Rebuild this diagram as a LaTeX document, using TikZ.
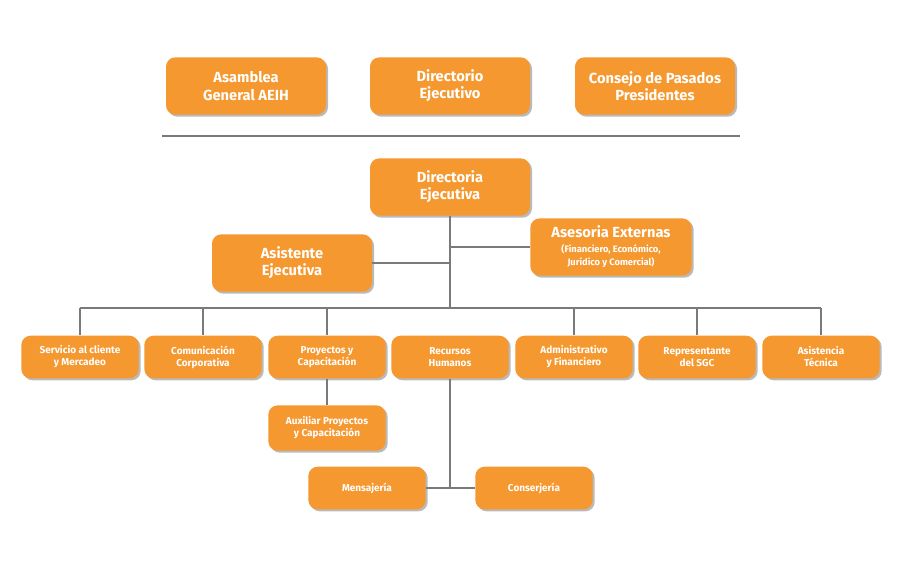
\documentclass[tikz,border=0pt]{standalone}
\usepackage{fontspec}
\setmainfont{Fira Sans}
\usetikzlibrary{shadows}
\definecolor{org}{HTML}{F5982F}
\definecolor{ln}{HTML}{7A7A7A}
\tikzset{
 box/.style={rounded corners=7pt, fill=org, draw=none, text=white, font=\bfseries, align=center, inner sep=0pt,
   drop shadow={shadow xshift=1.5pt, shadow yshift=-1.5pt, fill=black!45, opacity=0.6}},
 big/.style={box, minimum width=120pt, minimum height=43pt, font=\bfseries\fontsize{11}{13}\selectfont},
 small/.style={box, minimum width=88pt, minimum height=32pt, font=\bfseries\fontsize{7.5}{9}\selectfont},
 con/.style={draw=ln, line width=0.9pt}
}
\begin{document}
\begin{tikzpicture}[x=0.75pt,y=-0.75pt]
\useasboundingbox (0,0) rectangle (900,568);
\node[big] (asam) at (246,86) {Asamblea\\General AEIH};
\node[big] (dir) at (450,86) {Directorio\\Ejecutivo};
\node[big] (cons) at (655,86) {Consejo de Pasados\\Presidentes};
\draw[con] (162,136) -- (740,136);
\node[big] (de) at (450,187) {Directoria\\Ejecutiva};
\node[big] (as) at (292,263) {Asistente\\Ejecutiva};
\node[big, minimum width=121pt] (ae) at (611,247) {Asesoria Externas\\[-2pt]{\fontsize{7}{8.5}\selectfont (Financiero, Económico,}\\[-3pt]{\fontsize{7}{8.5}\selectfont Jurídico y Comercial)}};
\coordinate (bus) at (450,308);
\node[small] (s1) at (80,357) {Servicio al cliente\\y Mercadeo};
\node[small] (s2) at (203,357) {Comunicación\\Corporativa};
\node[small] (s3) at (327,357) {Proyectos y\\Capacitación};
\node[small] (s4) at (450,357) {Recursos\\Humanos};
\node[small] (s5) at (574,357) {Administrativo\\y Financiero};
\node[small] (s6) at (697,357) {Representante\\del SGC};
\node[small] (s7) at (821,357) {Asistencia\\Técnica};
\node[small, minimum height=34pt] (aux) at (327,428) {Auxiliar Proyectos\\y Capacitación};
\node[small] (men) at (367,488) {Mensajería};
\node[small] (conj) at (534,488) {Conserjería};
\coordinate (j) at (450,488);
\begin{scope}[on background layer/.try]
\draw[con] (de.south) -- (bus);
\draw[con] (as.east) -- (as.east -| de.south);
\draw[con] (ae.west) -- (ae.west -| de.south);
\draw[con] (s1.north |- bus) -- (s7.north |- bus);
\foreach \n in {s1,s2,s3,s5,s6,s7} \draw[con] (\n.north |- bus) -- (\n.north);
\draw[con] (s3.south) -- (aux.north);
\draw[con] (s4.south) -- (j);
\draw[con] (men.east) -- (conj.west);
\end{scope}
\end{tikzpicture}
\end{document}
